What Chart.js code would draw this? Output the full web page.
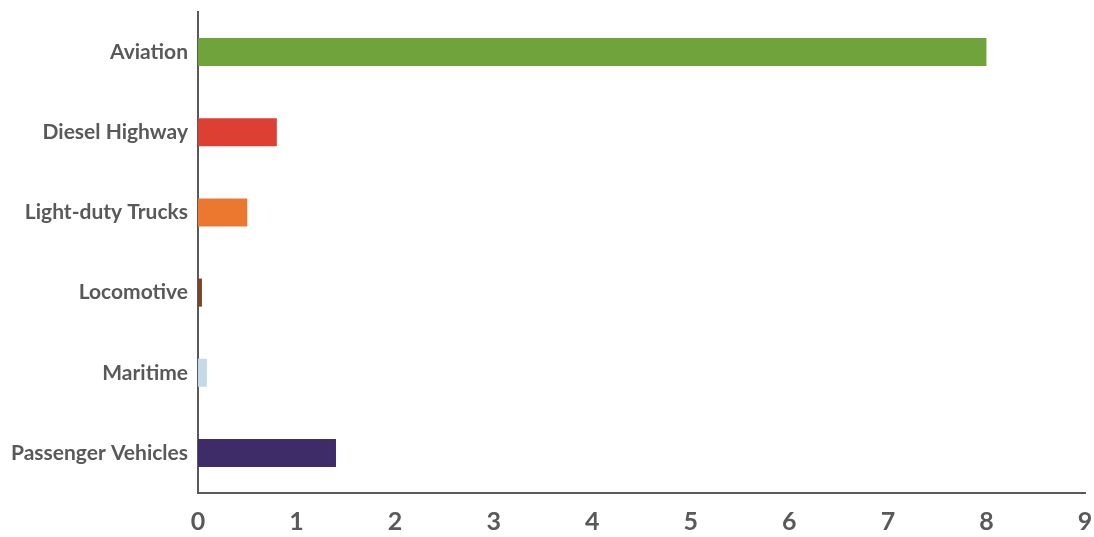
<!DOCTYPE html>
<html>
<head>
<meta charset="utf-8">
<script src="https://cdn.jsdelivr.net/npm/chart.js@4/dist/chart.umd.min.js"></script>
<style>
  html, body { margin: 0; padding: 0; background: #fff; }
  #wrap { width: 1094px; height: 537px; }
</style>
</head>
<body>
<div id="wrap"><canvas id="myChart"></canvas></div>
<script>
const categories = ["Aviation", "Diesel Highway", "Light-duty Trucks", "Locomotive", "Maritime", "Passenger Vehicles"];
const values = [8, 0.8, 0.5, 0.04, 0.09, 1.4];
const barColors = ["#70A33C", "#DE3F33", "#EC772F", "#7B4425", "#C5D9EA", "#3E2C68"];
const xTicks = [0, 1, 2, 3, 4, 5, 6, 7, 8, 9];

const axisGrey = "#595959";

new Chart(document.getElementById("myChart").getContext("2d"), {
  type: "bar",
  data: {
    labels: categories,
    datasets: [
      {
        data: values,
        backgroundColor: barColors,
        borderWidth: 0,
        categoryPercentage: 1,
        barPercentage: 0.35,
      },
    ],
  },
  options: {
    indexAxis: "y",
    responsive: true,
    maintainAspectRatio: false,
    animation: false,
    layout: { padding: { top: 12, left: 8, right: 9, bottom: 0 } },
    plugins: {
      legend: { display: false },
      tooltip: { enabled: false },
    },
    scales: {
      x: {
        min: xTicks[0],
        max: xTicks[xTicks.length - 1],
        afterBuildTicks: (s) => { s.ticks = xTicks.map((v) => ({ value: v })); },
        afterFit: (s) => {
          s.height = 44;
          s.paddingLeft = 0;
          s.paddingRight = 0;
        },
        grid: { display: false, drawTicks: false },
        border: { display: true, color: axisGrey, width: 2 },
        ticks: {
          color: axisGrey,
          padding: 14,
          maxRotation: 0,
          font: { family: "Lato", size: 25, weight: "bold" },
        },
      },
      y: {
        afterFit: (s) => {
          s.width = 190;
          s.paddingTop = 0;
          s.paddingBottom = 0;
        },
        grid: { display: false, drawTicks: false },
        border: { display: true, color: axisGrey, width: 2 },
        ticks: {
          color: axisGrey,
          padding: 10,
          font: { family: "Lato", size: 21, weight: "bold" },
        },
      },
    },
  },
});
</script>
</body>
</html>
